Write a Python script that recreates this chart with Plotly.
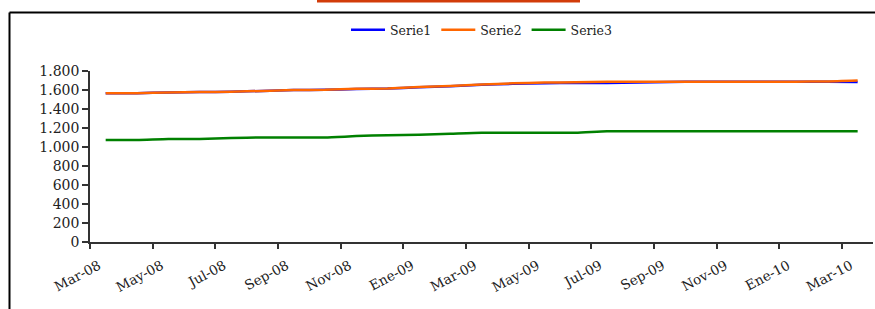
import plotly.graph_objects as go

months = ["Mar-08","Abr-08","May-08","Jun-08","Jul-08","Ago-08","Sep-08","Oct-08","Nov-08","Dic-08",
          "Ene-09","Feb-09","Mar-09","Abr-09","May-09","Jun-09","Jul-09","Ago-09","Sep-09","Oct-09",
          "Nov-09","Dic-09","Ene-10","Feb-10","Mar-10"]
serie1 = [1565,1565,1575,1578,1582,1590,1600,1602,1610,1615,1630,1640,1655,1665,1672,1675,1675,1678,1685,1688,1688,1688,1688,1688,1685]
serie2 = [1565,1565,1575,1578,1582,1590,1600,1602,1612,1617,1632,1642,1658,1670,1678,1682,1686,1687,1688,1688,1688,1688,1688,1690,1700]
serie3 = [1075,1075,1085,1085,1095,1100,1100,1100,1115,1125,1130,1140,1150,1150,1150,1150,1165,1165,1165,1165,1165,1165,1165,1165,1165]
tick_labels = ["Mar-08","May-08","Jul-08","Sep-08","Nov-08","Ene-09","Mar-09","May-09","Jul-09","Sep-09","Nov-09","Ene-10","Mar-10"]

font = "DejaVu Serif"
fig = go.Figure()
for name, vals, col in [("Serie1", serie1, "#0000ff"), ("Serie2", serie2, "#ff6600"), ("Serie3", serie3, "#008000")]:
    fig.add_trace(go.Scatter(x=months, y=vals, name=name, mode="lines",
                             line=dict(color=col, width=2.5, shape="spline", smoothing=0.6)))

PL, PT, PW, PH = 90, 71, 783, 171

fig.update_layout(
    width=875, height=309,
    margin=dict(l=PL, r=875 - PL - PW, t=PT, b=309 - PT - PH, autoexpand=False),
    paper_bgcolor="white", plot_bgcolor="white",
    separators=",.",
    font=dict(family=font, size=13, color="#222"),
    showlegend=True,
    legend=dict(orientation="h", x=0.5, xanchor="center", y=1 + (PT - 30) / PH, yanchor="middle",
                font=dict(family=font, size=12.5, color="#222"), itemwidth=34, tracegroupgap=0),
    xaxis=dict(type="category", range=[-0.5, 24.49], tickson="boundaries",
               tickmode="array", tickvals=tick_labels, ticktext=tick_labels,
               ticks="outside", ticklen=5, tickwidth=1.5, tickcolor="#333", automargin=False,
               showline=True, linecolor="#333", linewidth=1.5, showgrid=False,
               ticklabelstandoff=9, ticklabelshift=-7,
               tickangle=-28, tickfont=dict(family=font, size=13.5, color="#222"), zeroline=False),
    yaxis=dict(range=[0, 1800], dtick=200, tickformat=",d", ticks="outside", ticklen=6, automargin=False,
               tickwidth=1.5, tickcolor="#333", showline=True, linecolor="#333", linewidth=1.5,
               showgrid=False, zeroline=False, tickfont=dict(family=font, size=14, color="#222")),
)

# frame and top bar
fx = -(PL - 9.5) / PW
fy = 1 + (PT - 12.5) / PH
fig.add_shape(type="line", xref="paper", yref="paper", x0=fx, x1=1.01, y0=fy, y1=fy,
              line=dict(color="black", width=2))
fig.add_shape(type="line", xref="paper", yref="paper", x0=fx, x1=fx, y0=fy, y1=-0.5,
              line=dict(color="black", width=2))
fig.add_shape(type="rect", xref="paper", yref="paper", x0=(317 - PL) / PW, x1=(580 - PL) / PW,
              y0=1 + (PT - 2.5) / PH, y1=1 + (PT + 2) / PH, line=dict(width=0), fillcolor="#d23c0a")

fig.write_html("out.html", config={"displayModeBar": False},
               post_script="document.body.style.margin='0';document.body.style.overflow='hidden';")
